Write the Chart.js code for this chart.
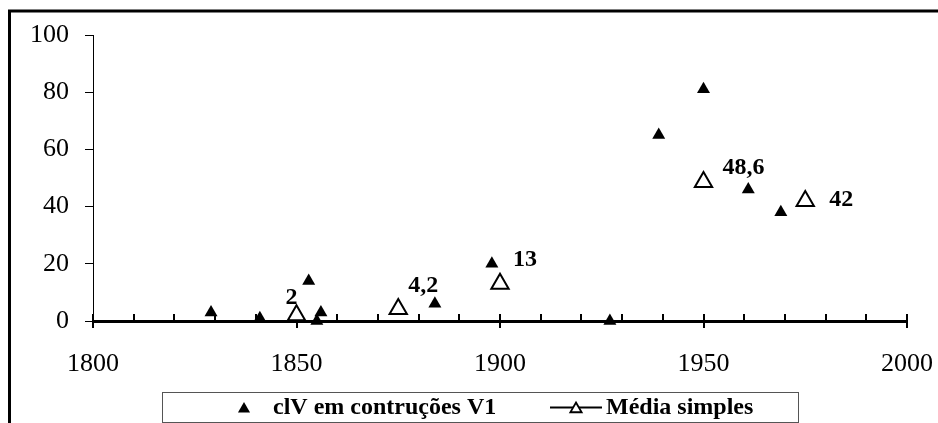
<!DOCTYPE html>
<html>
<head>
<meta charset="utf-8">
<script src="https://cdn.jsdelivr.net/npm/chart.js@4.4.0/dist/chart.umd.min.js"></script>
<style>
  html, body { margin: 0; padding: 0; background: #fff; }
  #wrap { width: 938px; height: 423px; position: relative; }
</style>
</head>
<body>
<div id="wrap"><canvas id="chart"></canvas></div>
<script>
// data
const serieYears = [1829, 1841, 1853, 1855, 1856, 1884, 1898, 1927, 1939, 1950, 1961, 1969];
const serieValues = [3, 1, 14, 0, 3, 6, 20, 0, 65, 81, 46, 38];
const mediaYears = [1850, 1875, 1900, 1950, 1975];
const mediaValues = [2, 4.2, 13, 48.6, 42];
const mediaLabels = ['2', '4,2', '13', '48,6', '42'];
const xTicks = [1800, 1850, 1900, 1950, 2000];
const yTicks = [0, 20, 40, 60, 80, 100];
const legendNames = ['clV em contruções V1', 'Média simples'];

// where each value label sits relative to its marker
const labelOffsets = [[-5, -17], [25, -23], [25, -24], [40, -14], [36, -1]];

const FONT = "'Liberation Serif', 'Times New Roman', serif";

function drawTri(ctx, x, y, r, filled) {
    ctx.beginPath();
    ctx.moveTo(x, y - r);
    ctx.lineTo(x + r * 0.866, y + r * 0.5);
    ctx.lineTo(x - r * 0.866, y + r * 0.5);
    ctx.closePath();
    if (filled) {
        ctx.fillStyle = '#000';
        ctx.fill();
    } else {
        ctx.fillStyle = '#fff';
        ctx.fill();
        ctx.lineWidth = 1.8;
        ctx.strokeStyle = '#000';
        ctx.stroke();
    }
}

const framePlugin = {
    id: 'frame',
    beforeDraw(chart) {
        const ctx = chart.ctx;
        ctx.save();
        ctx.fillStyle = '#fff';
        ctx.fillRect(0, 0, chart.width, chart.height);
        ctx.lineWidth = 3;
        ctx.strokeStyle = '#000';
        ctx.strokeRect(9.5, 11, chart.width + 10, chart.height + 10);
        ctx.restore();
    },
    beforeDatasetsDraw(chart) {
        // x axis tick marks: every 10 years inside, crossing at labelled years
        const ctx = chart.ctx;
        const xs = chart.scales.x;
        const y0 = chart.scales.y.getPixelForValue(0);
        ctx.save();
        ctx.strokeStyle = '#000';
        ctx.lineWidth = 2;
        for (let yr = xTicks[0]; yr <= xTicks[xTicks.length - 1]; yr += 10) {
            const px = Math.round(xs.getPixelForValue(yr));
            const major = xTicks.includes(yr);
            ctx.beginPath();
            ctx.moveTo(px, y0 - 7);
            ctx.lineTo(px, major ? y0 + 7 : y0);
            ctx.stroke();
        }
        ctx.restore();
    },
    afterDatasetsDraw(chart) {
        const ctx = chart.ctx;
        const meta = chart.getDatasetMeta(1);
        ctx.save();
        ctx.font = 'bold 24px ' + FONT;
        ctx.fillStyle = '#000';
        ctx.textAlign = 'center';
        ctx.textBaseline = 'middle';
        meta.data.forEach((pt, i) => {
            ctx.fillText(mediaLabels[i], pt.x + labelOffsets[i][0], pt.y + labelOffsets[i][1]);
        });
        ctx.restore();
    },
    afterDraw(chart) {
        // legend box
        const ctx = chart.ctx;
        ctx.save();
        ctx.strokeStyle = '#555';
        ctx.lineWidth = 1;
        ctx.strokeRect(162.5, 392.5, 636, 30);
        ctx.font = 'bold 24px ' + FONT;
        ctx.fillStyle = '#000';
        ctx.textBaseline = 'middle';
        drawTri(ctx, 244, 409, 7, true);
        ctx.fillText(legendNames[0], 273, 408);
        ctx.lineWidth = 2;
        ctx.strokeStyle = '#000';
        ctx.beginPath();
        ctx.moveTo(550, 407.5);
        ctx.lineTo(602, 407.5);
        ctx.stroke();
        drawTri(ctx, 576, 409, 6.5, false);
        ctx.fillStyle = '#000';
        ctx.fillText(legendNames[1], 606, 408);
        ctx.restore();
    }
};

const chart = new Chart(document.getElementById('chart'), {
    type: 'scatter',
    data: {
        datasets: [{
            label: legendNames[0],
            data: serieYears.map((yr, i) => ({ x: yr, y: serieValues[i] })),
            pointStyle: 'triangle',
            pointRadius: 7.5,
            backgroundColor: '#000',
            borderColor: '#000',
            borderWidth: 0,
            clip: false
        }, {
            label: legendNames[1],
            data: mediaYears.map((yr, i) => ({ x: yr, y: mediaValues[i] })),
            pointStyle: 'triangle',
            pointRadius: 10,
            backgroundColor: '#fff',
            borderColor: '#000',
            borderWidth: 2,
            showLine: false,
            clip: false
        }]
    },
    options: {
        responsive: true,
        maintainAspectRatio: false,
        animation: false,
        layout: { padding: { left: 10, right: 31, top: 35, bottom: 0 } },
        plugins: {
            legend: { display: false },
            tooltip: { enabled: false }
        },
        scales: {
            x: {
                type: 'linear',
                min: xTicks[0],
                max: xTicks[xTicks.length - 1],
                afterBuildTicks: s => { s.ticks = xTicks.map(v => ({ value: v })); },
                afterFit: s => { s.height = 102; s.paddingLeft = 0; s.paddingRight = 0; },
                grid: { display: true, drawOnChartArea: false, drawTicks: false },
                border: { display: true, color: '#000', width: 3 },
                ticks: {
                    color: '#000',
                    padding: 28,
                    maxRotation: 0,
                    autoSkip: false,
                    callback: v => String(v),
                    font: { family: FONT, size: 26 }
                }
            },
            y: {
                min: yTicks[0],
                max: yTicks[yTicks.length - 1],
                afterBuildTicks: s => { s.ticks = yTicks.map(v => ({ value: v })); },
                afterFit: s => { s.width = 83; s.paddingTop = 0; s.paddingBottom = 0; },
                grid: { drawOnChartArea: false, drawTicks: true, tickLength: 8, color: '#000', lineWidth: 1 },
                border: { display: true, color: '#000', width: 1 },
                ticks: {
                    color: '#000',
                    padding: 16,
                    font: { family: FONT, size: 26 }
                }
            }
        }
    },
    plugins: [framePlugin]
});
</script>
</body>
</html>
